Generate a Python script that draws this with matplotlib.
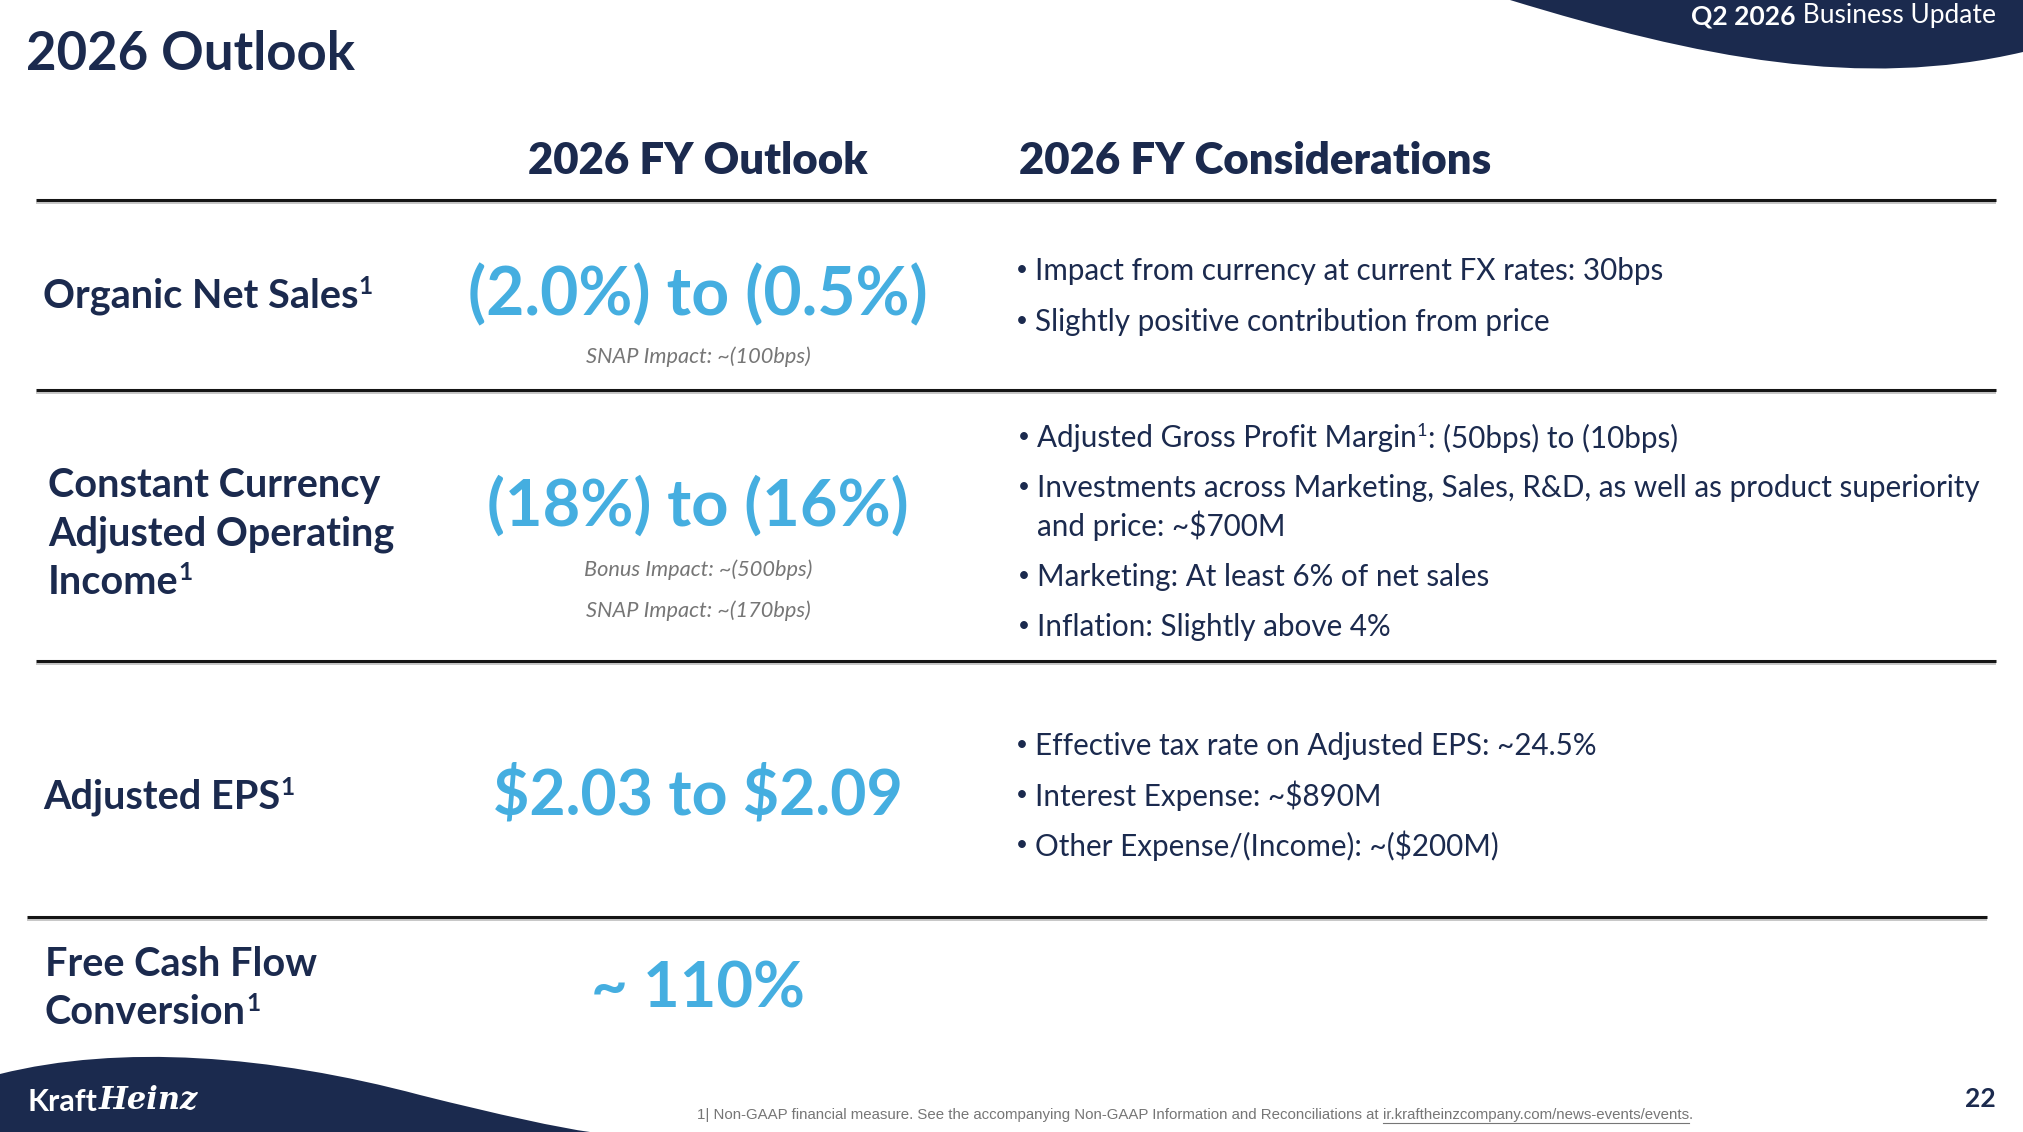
import matplotlib
matplotlib.use("Agg")
import matplotlib.pyplot as plt
from matplotlib.path import Path
from matplotlib.patches import PathPatch

# ---------------- data ----------------
page_title = "2026 Outlook"
banner_bold = "Q2 2026"
banner_rest = " Business Update"
col_headers = ["2026 FY Outlook", "2026 FY Considerations"]
row_labels = [
    ["Organic Net Sales¹"],
    ["Constant Currency", "Adjusted Operating", "Income¹"],
    ["Adjusted EPS¹"],
    ["Free Cash Flow", "Conversion¹"],
]
outlook_values = ["(2.0%) to (0.5%)", "(18%) to (16%)", "$2.03 to $2.09", "~ 110%"]
outlook_notes = [
    ["SNAP Impact: ~(100bps)"],
    ["Bonus Impact: ~(500bps)", "SNAP Impact: ~(170bps)"],
    [],
    [],
]
considerations = [
    [["Impact from currency at current FX rates: 30bps"],
     ["Slightly positive contribution from price"]],
    [["Adjusted Gross Profit Margin¹: (50bps) to (10bps)"],
     ["Investments across Marketing, Sales, R&D, as well as product superiority",
      "and price: ~$700M"],
     ["Marketing: At least 6% of net sales"],
     ["Inflation: Slightly above 4%"]],
    [["Effective tax rate on Adjusted EPS: ~24.5%"],
     ["Interest Expense: ~$890M"],
     ["Other Expense/(Income): ~($200M)"]],
    [],
]
footnote_text = ("1| Non-GAAP financial measure. See the accompanying Non-GAAP "
                 "Information and Reconciliations at ")
footnote_link = "ir.kraftheinzcompany.com/news-events/events"
page_number = "22"

# ---------------- style ----------------
NAVY = "#1B2A4E"
BLUE = "#45AEE0"
GRAY = "#767676"
FONT = ["Lato", "DejaVu Sans"]
plt.rcParams["font.family"] = FONT

W, H = 2023, 1132
fig = plt.figure(figsize=(W / 100, H / 100), dpi=100)
ax = fig.add_axes([0, 0, 1, 1])
ax.set_xlim(0, W)
ax.set_ylim(H, 0)
ax.axis("off")
renderer = fig.canvas.get_renderer()
inv = ax.transData.inverted()


def txt(x, y, s, **kw):
    kw.setdefault("parse_math", False)
    return ax.text(x, y, s, **kw)


def extent_x(t):
    bb = t.get_window_extent(renderer)
    return inv.transform((bb.x0, 0))[0], inv.transform((bb.x1, 0))[0]


def rich(x, y, s, fontsize, **kw):
    """Draw text left-aligned, rendering '¹' as a raised, smaller 1."""
    parts = s.split("¹")
    cx = x
    for i, p in enumerate(parts):
        if p:
            t = txt(cx, y, p, fontsize=fontsize, ha="left", va="center", **kw)
            cx = extent_x(t)[1]
        if i < len(parts) - 1:
            t = txt(cx, y - fontsize * 0.34, "1", fontsize=fontsize * 0.62,
                    ha="left", va="center", **kw)
            cx = extent_x(t)[1] + 1


# top-right banner
banner = Path(
    [(1510, 0), (1700, 58), (1860, 90), (2023, 52), (2023, 0), (1510, 0)],
    [Path.MOVETO, Path.CURVE4, Path.CURVE4, Path.CURVE4, Path.LINETO, Path.CLOSEPOLY],
)
ax.add_patch(PathPatch(banner, facecolor=NAVY, edgecolor="none"))
t = txt(1996, 16, banner_rest, color="white", fontsize=19, ha="right", va="center")
x_left = extent_x(t)[0]
txt(x_left, 16, banner_bold, color="white", fontsize=19, fontweight="bold",
    ha="right", va="center")

# bottom-left wave
wave = Path(
    [(0, 1074), (120, 1044), (270, 1055), (420, 1095),
     (500, 1115), (560, 1128), (590, 1132), (0, 1132), (0, 1074)],
    [Path.MOVETO, Path.CURVE4, Path.CURVE4, Path.CURVE4,
     Path.CURVE4, Path.CURVE4, Path.CURVE4, Path.LINETO, Path.CLOSEPOLY],
)
ax.add_patch(PathPatch(wave, facecolor=NAVY, edgecolor="none"))
tk = txt(28, 1102, "Kraft", color="white", fontsize=22, fontweight="bold",
         ha="left", va="center")
xk = extent_x(tk)[1]
txt(xk + 1, 1101, "Heinz", color="white", fontsize=22, fontstyle="italic",
    fontweight="bold", family=["DejaVu Serif"], ha="left", va="center")

# title
txt(26, 55, page_title, color=NAVY, fontsize=38, fontweight="bold",
    ha="left", va="center")

# column headers
txt(698, 161, col_headers[0], color=NAVY, fontsize=31.5, fontweight="heavy",
    ha="center", va="center")
txt(1019, 161, col_headers[1], color=NAVY, fontsize=31.5, fontweight="heavy",
    ha="left", va="center")

# divider lines
for y, x0, x1 in [(200, 36, 1996), (390, 36, 1996), (661, 36, 1996), (917, 27, 1987)]:
    ax.plot([x0, x1], [y + 2.5, y + 2.5], color="#BDBDBD", lw=1.2, solid_capstyle="butt")
    ax.plot([x0, x1], [y, y], color="#151515", lw=2.2, solid_capstyle="butt")

# row labels
label_pos = [(43, [296]), (48, [485, 534, 582]), (43, [797]), (45, [965, 1013])]
for lines, (x, ys) in zip(row_labels, label_pos):
    for s, y in zip(lines, ys):
        rich(x, y, s, 28.5, color=NAVY, fontweight="bold")

# outlook values
value_y = [296, 506, 796, 990]
value_size = [47.5, 46.8, 45, 45.5]
note_ys = [[357], [570, 611], [], []]
for val, vy, vs, notes, nys in zip(outlook_values, value_y, value_size,
                                   outlook_notes, note_ys):
    txt(698, vy, val, color=BLUE, fontsize=vs, fontweight="bold",
        ha="center", va="center")
    for n, ny in zip(notes, nys):
        txt(698, ny, n, color=GRAY, fontsize=15.7, fontstyle="italic",
            ha="center", va="center")

# considerations bullets
bullet_start = [(1016, [271, 322]),
                (1018, [438, 488, 577, 627]),
                (1016, [746, 796, 846]),
                (1016, [])]
line_gap = 38
for items, (bx, ys) in zip(considerations, bullet_start):
    for item, y in zip(items, ys):
        txt(bx, y - 1, "•", color=NAVY, fontsize=15, ha="left", va="center")
        for k, line in enumerate(item):
            rich(bx + 19, y + k * line_gap, line, 21.3, color=NAVY)

# footnote
FN = ["Liberation Sans", "DejaVu Sans"]
tf = txt(697, 1115, footnote_text, color=GRAY, fontsize=10.8, family=FN,
         ha="left", va="center")
xf = extent_x(tf)[1]
tl = txt(xf, 1115, footnote_link, color=GRAY, fontsize=10.8, family=FN,
         ha="left", va="center")
xl0, xl1 = extent_x(tl)
ax.plot([xl0, xl1], [1123, 1123], color=GRAY, lw=0.8)
txt(xl1, 1115, ".", color=GRAY, fontsize=10.8, family=FN, ha="left", va="center")

# page number
txt(1996, 1099, page_number, color=NAVY, fontsize=19, fontweight="bold",
    ha="right", va="center")

fig.savefig("out.png", dpi=100, facecolor="white")
